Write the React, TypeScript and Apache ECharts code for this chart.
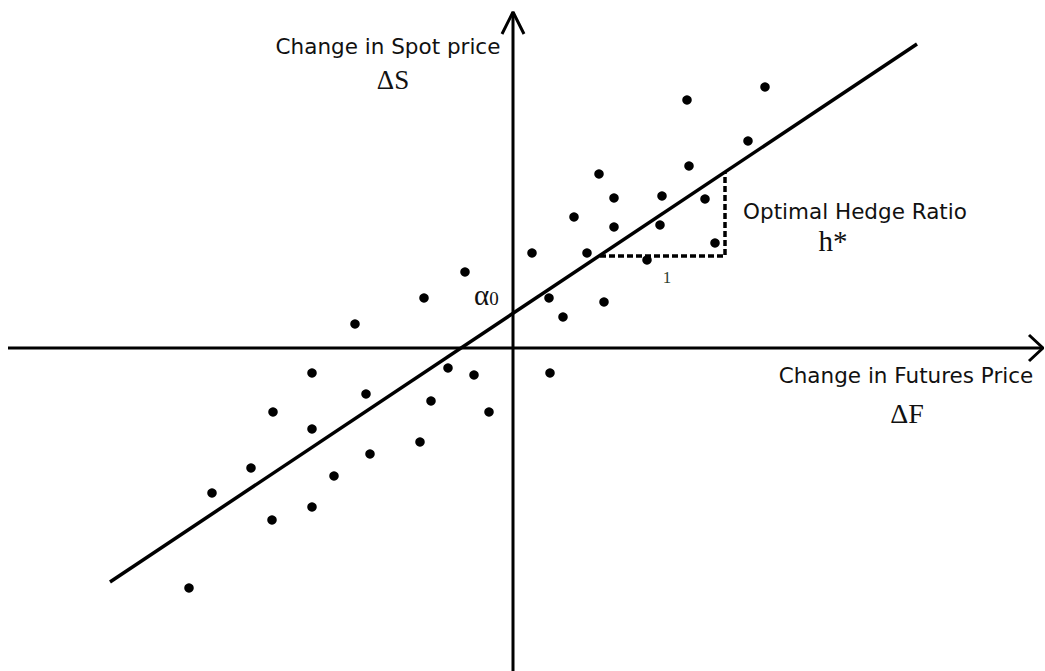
import React, { useEffect, useRef } from "react";
import * as echarts from "echarts";

// Observations: change in futures price (ΔF) vs change in spot price (ΔS)
const futuresChange = [
  -15.8, -20.1, -14.7, -24.0, -20.1, -26.2, -30.1, -24.1, -20.1, -17.9, -14.3,
  -9.3, -8.2, -6.5, -3.9, -2.4, -32.4, -8.9, -4.8,
  17.4, 25.2, 23.5, 17.6, 8.6, 10.1, 14.9, 19.2, 6.1, 10.1, 14.7, 1.9, 7.4,
  20.2, 13.4, 3.6, 5.0, 9.1, 3.7,
];
const spotChange = [
  2.4, -2.5, -4.6, -6.4, -8.1, -12.0, -14.5, -17.2, -15.9, -12.8, -10.6,
  -9.4, -5.3, -2.0, -2.7, -6.4, -24.0, 5.0, 7.6,
  24.8, 26.1, 20.7, 18.2, 17.4, 15.0, 15.2, 14.9, 13.1, 12.1, 12.3, 9.5, 9.5,
  10.5, 8.8, 5.0, 3.1, 4.6, -2.5,
];

// Fitted regression line endpoints
const fitX = [-40.3, 40.4];
const fitY = [-23.4, 30.4];

// Slope triangle: run of 1 along ΔF, rise of h* along ΔS
const slopeX = [8.7, 21.2, 21.2];
const slopeY = [9.2, 9.2, 17.6];

// Axis extents
const X_MIN = -51.3;
const X_MAX = 53.2;
const Y_MIN = -32.3;
const Y_MAX = 34.8;

const SANS = "DejaVu Sans, Verdana, sans-serif";
const SERIF = "Liberation Serif, Times New Roman, serif";

export default function App() {
  const ref = useRef<HTMLDivElement>(null);

  useEffect(() => {
    if (!ref.current) return;
    const chart = echarts.init(ref.current, null, { renderer: "svg" });

    const points = futuresChange.map((x, i) => [x, spotChange[i]]);
    const fitLine = fitX.map((x, i) => [x, fitY[i]]);
    const triangle = slopeX.map((x, i) => [x, slopeY[i]]);

    const axisStyle = { color: "#000", width: 3 };
    const plain = (name: string, data: number[][], lineStyle: any) => ({
      name,
      type: "line",
      data,
      symbol: "none",
      clip: false,
      silent: true,
      lineStyle,
      z: 2,
    });

    const label = (text: string, x: number, y: number, font: string) => ({
      type: "text",
      x,
      y,
      style: {
        text,
        font,
        fill: "#111",
        align: "center",
        verticalAlign: "middle",
      },
    });

    chart.setOption({
      animation: false,
      backgroundColor: "#fff",
      grid: { left: 0, right: 0, top: 0, bottom: 0 },
      xAxis: { type: "value", min: X_MIN, max: X_MAX, show: false },
      yAxis: { type: "value", min: Y_MIN, max: Y_MAX, show: false },
      series: [
        plain("ΔF axis", [[-50.5, 0], [53.0, 0]], axisStyle),
        plain("ΔS axis", [[0, 33.6], [0, Y_MIN]], axisStyle),
        plain("ΔF arrow", [[51.6, 1.3], [53.0, 0], [51.6, -1.3]], axisStyle),
        plain("ΔS arrow", [[-1.1, 31.4], [0, 33.6], [1.1, 31.4]], axisStyle),
        plain("fit", fitLine, { color: "#000", width: 3.5 }),
        plain("slope", triangle, { color: "#000", width: 3.5, type: [6, 3] }),
        {
          name: "observations",
          type: "scatter",
          data: points,
          symbol: "circle",
          symbolSize: 9.5,
          itemStyle: { color: "#000", opacity: 1 },
          z: 3,
        },
      ],
      graphic: [
        label("Change in Spot price", 388, 46, `21.5px ${SANS}`),
        label("ΔS", 393, 80, `27px ${SERIF}`),
        label("Optimal Hedge Ratio", 855, 211, `21.5px ${SANS}`),
        label("h*", 833, 241, `29px ${SERIF}`),
        label("Change in Futures Price", 906, 375, `21.5px ${SANS}`),
        label("ΔF", 907, 413, `28px ${SERIF}`),
        {
          type: "text",
          x: 474,
          y: 295,
          style: {
            text: "{a|α}{s|0}",
            verticalAlign: "middle",
            rich: {
              a: { font: `29px ${SERIF}`, fill: "#111", verticalAlign: "bottom" },
              s: { font: `19px ${SERIF}`, fill: "#111", verticalAlign: "bottom", padding: [0, 0, 2, 0] },
            },
          },
        },
        {
          type: "text",
          x: 667,
          y: 277,
          style: {
            text: "1",
            font: `17px ${SERIF}`,
            fill: "#2f3f2f",
            align: "center",
            verticalAlign: "middle",
          },
        },
      ],
    });

    return () => chart.dispose();
  }, []);

  return (
    <div
      ref={ref}
      style={{ position: "absolute", left: 0, top: 0, width: 1045, height: 671 }}
    />
  );
}
